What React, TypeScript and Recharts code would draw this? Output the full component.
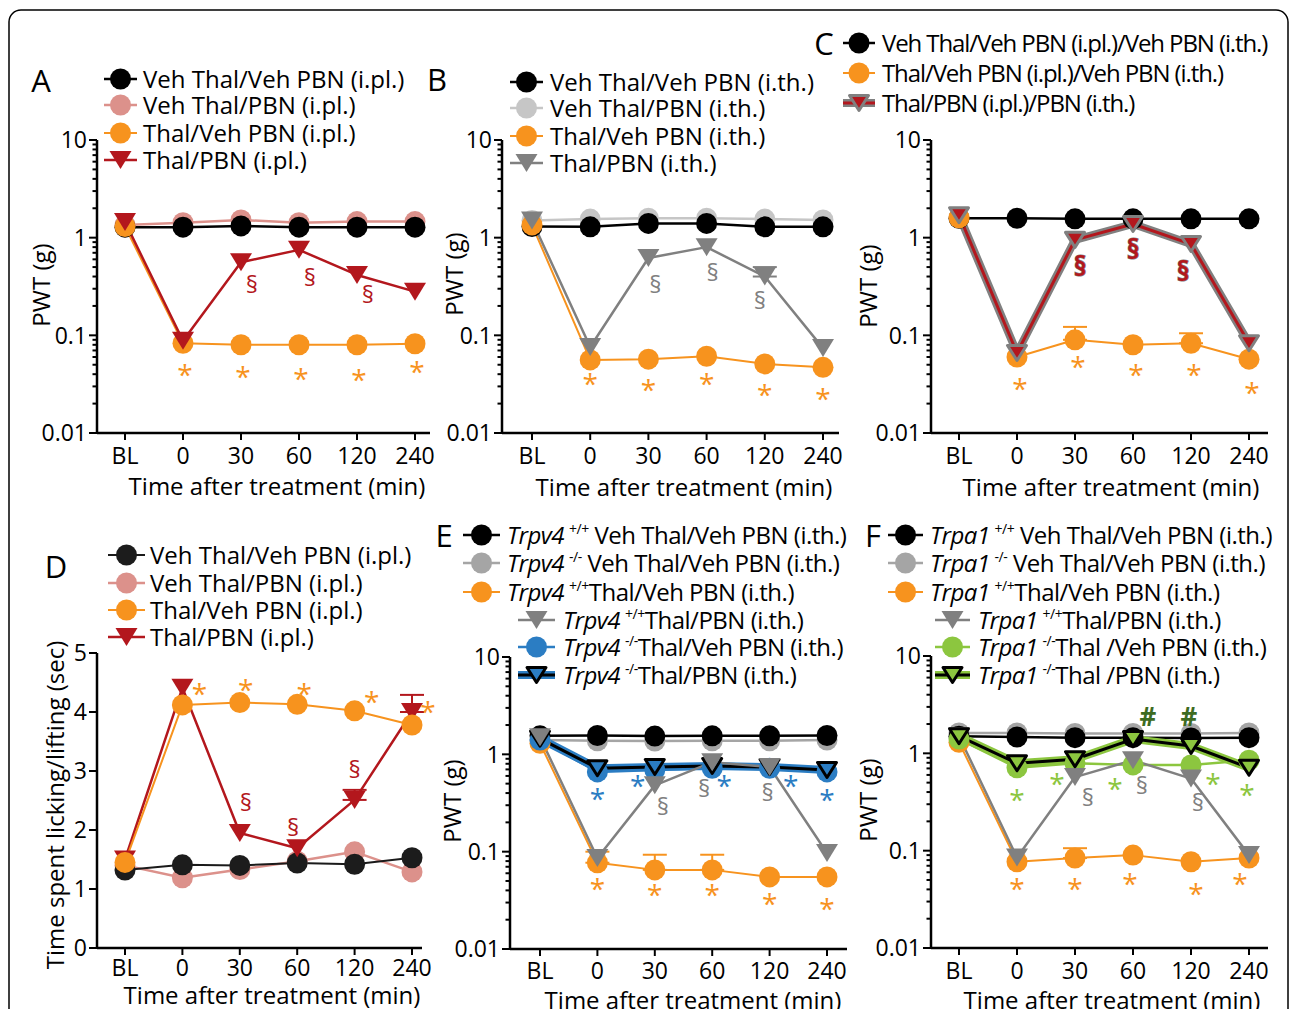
import type { ReactNode } from "react";
import { ErrorBar, Line, LineChart, XAxis, YAxis } from "recharts";

const FONT = "'Open Sans', sans-serif";

// x categories and axis ticks
const CATS = ["BL", "0", "30", "60", "120", "240"];
const LOG_TICKS = [
  0.01, 0.02, 0.03, 0.04, 0.05, 0.06, 0.07, 0.08, 0.09,
  0.1, 0.2, 0.3, 0.4, 0.5, 0.6, 0.7, 0.8, 0.9,
  1, 2, 3, 4, 5, 6, 7, 8, 9, 10,
];
const LOG_MAJOR = [0.01, 0.1, 1, 10];
const LIN_TICKS = [0, 1, 2, 3, 4, 5];

// A: PWT (g), i.pl.
const A_VEH_VEH = [1.28, 1.28, 1.32, 1.28, 1.28, 1.28];
const A_VEH_PBN = [1.35, 1.42, 1.52, 1.42, 1.46, 1.46];
const A_THAL_VEH = [1.3, 0.083, 0.08, 0.08, 0.08, 0.082];
const A_THAL_PBN = [1.45, 0.088, 0.56, 0.75, 0.415, 0.28];
const A_SECT = [null, null, 0.33, 0.39, 0.26, null];
const A_STAR = [null, 0.046, 0.044, 0.042, 0.041, 0.049];

// B: PWT (g), i.th.
const B_VEH_VEH = [1.3, 1.29, 1.4, 1.4, 1.29, 1.29];
const B_VEH_PBN = [1.5, 1.55, 1.58, 1.58, 1.55, 1.52];
const B_THAL_VEH = [1.35, 0.056, 0.057, 0.061, 0.051, 0.047];
const B_THAL_PBN = [1.5, 0.076, 0.62, 0.8, 0.4, 0.074];
const B_THAL_PBN_ERR = [null, null, null, null, 0.1, null];
const B_SECT = [null, null, 0.33, 0.44, 0.23, null];
const B_STAR = [null, 0.037, 0.0325, 0.037, 0.029, 0.026];

// C: PWT (g), i.pl. + i.th.
const C_VEH_VEH = [1.58, 1.58, 1.56, 1.56, 1.56, 1.56];
const C_THAL_VEH = [1.6, 0.06, 0.09, 0.08, 0.083, 0.057];
const C_THAL_VEH_ERR = [null, null, 0.032, null, 0.022, null];
const C_THAL_PBN = [1.7, 0.066, 0.95, 1.38, 0.86, 0.083];
const C_SECT = [null, null, 0.5, 0.75, 0.45, null];
const C_STAR = [null, 0.033, 0.056, 0.046, 0.046, 0.03];

// D: time spent licking/lifting (sec)
const D_VEH_VEH = [1.32, 1.41, 1.4, 1.44, 1.42, 1.53];
const D_VEH_PBN = [1.4, 1.19, 1.33, 1.47, 1.63, 1.29];
const D_THAL_VEH = [1.45, 4.12, 4.16, 4.13, 4.02, 3.78];
const D_THAL_PBN = [1.5, 4.41, 1.95, 1.69, 2.51, 4.0];
const D_THAL_PBN_ERR = [null, null, null, null, 0.17, 0.29];
const D_SECT = [null, null, 2.47, 2.05, 3.02, null];
const D_STAR = [null, 4.42, 4.49, 4.42, 4.29, 4.12];

// E: Trpv4
const E_WT_VEH = [1.55, 1.56, 1.54, 1.55, 1.55, 1.56];
const E_KO_VEH = [1.4, 1.38, 1.37, 1.38, 1.38, 1.4];
const E_WT_THAL_VEH = [1.3, 0.077, 0.065, 0.065, 0.055, 0.055];
const E_WT_THAL_VEH_ERR = [null, 0.023, 0.028, 0.028, null, null];
const E_WT_THAL_PBN = [1.5, 0.086, 0.48, 0.83, 0.74, 0.097];
const E_KO_THAL_VEH = [1.4, 0.66, 0.69, 0.72, 0.72, 0.66];
const E_KO_THAL_PBN = [1.45, 0.72, 0.74, 0.76, 0.74, 0.69];
const E_KO_STAR = [null, 0.41, 0.56, 0.56, 0.56, 0.4];
const E_SECT = [null, null, 0.29, 0.45, 0.41, null];
const E_STAR = [null, 0.048, 0.042, 0.042, 0.034, 0.03];

// F: Trpa1
const F_WT_VEH = [1.5, 1.47, 1.45, 1.45, 1.44, 1.45];
const F_KO_VEH = [1.62, 1.62, 1.6, 1.6, 1.6, 1.62];
const F_WT_THAL_VEH = [1.3, 0.077, 0.084, 0.09, 0.077, 0.084];
const F_WT_THAL_VEH_ERR = [null, null, 0.022, null, null, null];
const F_WT_THAL_PBN = [1.5, 0.085, 0.57, 0.85, 0.55, 0.09];
const F_KO_THAL_VEH = [1.4, 0.71, 0.79, 0.76, 0.76, 0.85];
const F_KO_THAL_PBN = [1.5, 0.79, 0.87, 1.4, 1.19, 0.71];
const F_HASH = [null, null, null, 2.36, 2.36, null];
const F_KO_STAR = [null, 0.39, 0.57, 0.5, 0.57, 0.44];
const F_SECT = [null, null, 0.35, 0.47, 0.31, null];
const F_STAR = [null, 0.047, 0.047, 0.053, 0.042, 0.054];

// legend texts
const IPL_NAMES = ["Veh Thal/Veh PBN (i.pl.)", "Veh Thal/PBN (i.pl.)", "Thal/Veh PBN (i.pl.)", "Thal/PBN (i.pl.)"];
const ITH_NAMES = ["Veh Thal/Veh PBN (i.th.)", "Veh Thal/PBN (i.th.)", "Thal/Veh PBN (i.th.)", "Thal/PBN (i.th.)"];
const C_NAMES = ["Veh Thal/Veh PBN (i.pl.)/Veh PBN (i.th.)", "Thal/Veh PBN (i.pl.)/Veh PBN (i.th.)", "Thal/PBN (i.pl.)/PBN (i.th.)"];
const E_GENO = ["+/+", "-/-", "+/+", "+/+", "-/-", "-/-"];
const E_REST = [" Veh Thal/Veh PBN (i.th.)", " Veh Thal/Veh PBN (i.th.)", "Thal/Veh PBN (i.th.)", "Thal/PBN (i.th.)", "Thal/Veh PBN (i.th.)", "Thal/PBN (i.th.)"];
const F_REST = [" Veh Thal/Veh PBN (i.th.)", " Veh Thal/Veh PBN (i.th.)", "Thal/Veh PBN (i.th.)", "Thal/PBN (i.th.)", "Thal /Veh PBN (i.th.)", "Thal /PBN (i.th.)"];

const X_TITLE = "Time after treatment (min)";
const PWT = "PWT (g)";
const LICK = "Time spent licking/lifting (sec)";

const C_ORANGE = "#f7931e";
const C_PINK = "#dc918b";
const C_RED = "#b3171d";
const C_LGRAY = "#c6c6c6";
const C_GRAY = "#808080";
const C_MGRAY = "#a5a5a5";
const C_BLUE = "#2b7dc3";
const C_GREEN = "#8cc63f";
const C_DGREEN = "#3d6b21";

type Look = {
  color: string;
  width: number;
  shape: "circle" | "triangle";
  fill: string;
  mStroke?: string;
  mStrokeW?: number;
  under?: { color: string; width: number };
};

const LK_BLACK: Look = { color: "#000", width: 2.5, shape: "circle", fill: "#000" };
const LK_DARK: Look = { color: "#1a1a1a", width: 2, shape: "circle", fill: "#1c1c1c" };
const LK_PINK: Look = { color: C_PINK, width: 2.5, shape: "circle", fill: C_PINK };
const LK_ORANGE: Look = { color: C_ORANGE, width: 2, shape: "circle", fill: C_ORANGE };
const LK_RED_TRI: Look = { color: C_RED, width: 2.5, shape: "triangle", fill: C_RED };
const LK_LGRAY: Look = { color: C_LGRAY, width: 2.5, shape: "circle", fill: C_LGRAY };
const LK_GRAY_TRI: Look = { color: C_GRAY, width: 2.5, shape: "triangle", fill: C_GRAY };
const LK_C_TRI: Look = { color: C_RED, width: 3, shape: "triangle", fill: C_RED, mStroke: C_GRAY, mStrokeW: 3, under: { color: C_GRAY, width: 8 } };
const LK_MGRAY: Look = { color: C_MGRAY, width: 2.5, shape: "circle", fill: C_MGRAY };
const LK_BLUE: Look = { color: C_BLUE, width: 2.5, shape: "circle", fill: C_BLUE };
const LK_BLUE_TRI: Look = { color: "#000", width: 3, shape: "triangle", fill: C_BLUE, mStroke: "#000", mStrokeW: 3, under: { color: C_BLUE, width: 8 } };
const LK_GREEN: Look = { color: C_GREEN, width: 2.5, shape: "circle", fill: C_GREEN };
const LK_GREEN_TRI: Look = { color: "#000", width: 3, shape: "triangle", fill: C_GREEN, mStroke: "#000", mStrokeW: 3, under: { color: C_GREEN, width: 8 } };

type Series = { look: Look; values: number[]; err?: (number | null)[] };
type Mark = { values: (number | null)[]; text: string; color: string; size: number; dx?: number | number[]; bold?: boolean; outline?: string };
type LegendItem = { look: Look; label: ReactNode; y: number; x0: number; x1: number; tx: number; ls?: number };
type PanelCfg = {
  id: string;
  plot: { x0: number; x1: number; y0: number; y1: number };
  pad: [number, number];
  log: boolean;
  tickMargin: number;
  series: Series[];
  marks: Mark[];
  letter: { text: string; x: number; y: number };
  yLabel: { text: string; x: number; y: number };
  xTitle: { x: number; y: number };
  legend: LegendItem[];
};

const YW = 80;
const TM = 22;
const RM = 16;
const XH = 70;

function shapeEl(s: Look, cx: number, cy: number, key?: string | number) {
  const stroke = s.mStroke ?? "none";
  const sw = s.mStrokeW ?? 0;
  if (s.shape === "circle") {
    return <circle key={key} cx={cx} cy={cy} r={10.5} fill={s.fill} stroke={stroke} strokeWidth={sw} />;
  }
  const w = sw ? 19 : 22;
  const h = sw ? 15 : 18;
  return (
    <path
      key={key}
      d={`M${cx - w / 2},${cy - h / 2}L${cx + w / 2},${cy - h / 2}L${cx},${cy + h / 2}Z`}
      fill={s.fill}
      stroke={stroke}
      strokeWidth={sw}
      strokeLinejoin="round"
    />
  );
}

function markDot(m: Mark, p: any) {
  const { cx, cy, index, value } = p;
  if (cx == null || cy == null || value == null) return <g key={`mk${index}`} />;
  const dx = Array.isArray(m.dx) ? m.dx[index] : m.dx ?? 0;
  const lift = m.text === "*" ? 0.6 : 0.36;
  return (
    <text
      key={`mk${index}`}
      x={cx + dx}
      y={cy + lift * m.size}
      textAnchor="middle"
      fontSize={m.size}
      fontFamily={FONT}
      fontWeight={m.bold ? 700 : 400}
      fill={m.color}
      stroke={m.outline ?? "none"}
      strokeWidth={m.outline ? 1.2 : 0}
      paintOrder="stroke"
    >
      {m.text}
    </text>
  );
}

function AxisTick(props: any) {
  const { x, y, payload, log } = props;
  const v = payload.value;
  const major = !log || LOG_MAJOR.includes(v);
  return (
    <g>
      <line x1={x - (major ? 8 : 4.5)} x2={x} y1={y} y2={y} stroke="#000" strokeWidth={2} />
      {major && (
        <text x={x - 10} y={y} dy="0.36em" textAnchor="end" fontSize={23} fontFamily={FONT} fill="#000">
          {String(v)}
        </text>
      )}
    </g>
  );
}

function Panel({ cfg }: { cfg: PanelCfg }) {
  const { plot, pad, log } = cfg;
  const data = CATS.map((t, i) => {
    const row: Record<string, unknown> = { t };
    cfg.series.forEach((s, k) => {
      row[`s${k}`] = s.values[i];
      if (s.err) row[`e${k}`] = s.err[i] == null ? null : [0, s.err[i]];
    });
    cfg.marks.forEach((m, k) => {
      row[`m${k}`] = m.values[i];
    });
    return row;
  });
  const width = plot.x1 - plot.x0 + YW + RM;
  const height = plot.y1 - plot.y0 + TM + XH;

  const lines: ReactNode[] = [];
  cfg.series.forEach((s, k) => {
    if (s.look.under) {
      lines.push(
        <Line
          key={`u${k}`}
          dataKey={`s${k}`}
          stroke={s.look.under.color}
          strokeWidth={s.look.under.width}
          strokeLinejoin="round"
          dot={false}
          activeDot={false}
          isAnimationActive={false}
        />
      );
    }
    lines.push(
      <Line
        key={`s${k}`}
        dataKey={`s${k}`}
        stroke={s.look.color}
        strokeWidth={s.look.width}
        strokeLinejoin="round"
        dot={(p: any) => shapeEl(s.look, p.cx, p.cy, `d${p.index}`)}
        activeDot={false}
        isAnimationActive={false}
      >
        {s.err && <ErrorBar dataKey={`e${k}`} direction="y" width={12} strokeWidth={2} stroke={s.look.color} />}
      </Line>
    );
  });
  cfg.marks.forEach((m, k) => {
    lines.push(
      <Line
        key={`m${k}`}
        dataKey={`m${k}`}
        stroke="none"
        dot={(p: any) => markDot(m, p)}
        activeDot={false}
        isAnimationActive={false}
      />
    );
  });

  return (
    <div style={{ position: "absolute", left: plot.x0 - YW, top: plot.y0 - TM }}>
      <LineChart width={width} height={height} data={data} margin={{ top: TM, right: RM, bottom: 0, left: 0 }}>
        <XAxis
          dataKey="t"
          interval={0}
          padding={{ left: pad[0], right: pad[1] }}
          axisLine={{ stroke: "#000", strokeWidth: 2.5 }}
          tickLine={{ stroke: "#000", strokeWidth: 2 }}
          tickSize={7}
          tickMargin={cfg.tickMargin}
          tick={{ fontSize: 23, fill: "#000", fontFamily: FONT }}
          height={XH}
        />
        <YAxis
          type="number"
          scale={log ? "log" : "linear"}
          domain={log ? [0.01, 10] : [0, 5]}
          allowDataOverflow
          ticks={log ? LOG_TICKS : LIN_TICKS}
          interval={0}
          width={YW}
          tickLine={false}
          tickSize={0}
          tickMargin={0}
          axisLine={{ stroke: "#000", strokeWidth: 2.5 }}
          tick={(p: any) => <AxisTick {...p} log={log} />}
        />
        {lines}
      </LineChart>
    </div>
  );
}

function geneLabel(gene: string, geno: string, rest: string) {
  return (
    <>
      <tspan fontStyle="italic">{gene}</tspan>
      <tspan fontSize={14} dx={5} dy={-10}>{geno}</tspan>
      <tspan dy={10}>{rest}</tspan>
    </>
  );
}

const PANELS: PanelCfg[] = [
  {
    id: "A",
    plot: { x0: 97, x1: 430, y0: 140, y1: 433 },
    pad: [28, 15],
    log: true,
    tickMargin: 8,
    series: [
      { look: LK_PINK, values: A_VEH_PBN },
      { look: LK_BLACK, values: A_VEH_VEH },
      { look: LK_ORANGE, values: A_THAL_VEH },
      { look: LK_RED_TRI, values: A_THAL_PBN },
    ],
    marks: [
      { values: A_SECT, text: "§", color: C_RED, size: 24, dx: 11 },
      { values: A_STAR, text: "*", color: C_ORANGE, size: 28, dx: 2 },
    ],
    letter: { text: "A", x: 41, y: 81 },
    yLabel: { text: PWT, x: 41, y: 285 },
    xTitle: { x: 277, y: 486 },
    legend: [
      { look: LK_BLACK, label: IPL_NAMES[0], y: 79, x0: 104, x1: 137, tx: 143 },
      { look: LK_PINK, label: IPL_NAMES[1], y: 105, x0: 104, x1: 137, tx: 143 },
      { look: LK_ORANGE, label: IPL_NAMES[2], y: 133, x0: 104, x1: 137, tx: 143 },
      { look: LK_RED_TRI, label: IPL_NAMES[3], y: 160, x0: 104, x1: 137, tx: 143 },
    ],
  },
  {
    id: "B",
    plot: { x0: 502, x1: 839, y0: 140, y1: 433 },
    pad: [30, 16],
    log: true,
    tickMargin: 8,
    series: [
      { look: LK_LGRAY, values: B_VEH_PBN },
      { look: LK_BLACK, values: B_VEH_VEH },
      { look: LK_ORANGE, values: B_THAL_VEH },
      { look: LK_GRAY_TRI, values: B_THAL_PBN, err: B_THAL_PBN_ERR },
    ],
    marks: [
      { values: B_SECT, text: "§", color: C_GRAY, size: 24, dx: [0, 0, 7, 6, -5, 0] },
      { values: B_STAR, text: "*", color: C_ORANGE, size: 28, dx: 0 },
    ],
    letter: { text: "B", x: 437, y: 80 },
    yLabel: { text: PWT, x: 454, y: 274 },
    xTitle: { x: 684, y: 487 },
    legend: [
      { look: LK_BLACK, label: ITH_NAMES[0], y: 82, x0: 510, x1: 543, tx: 550 },
      { look: LK_LGRAY, label: ITH_NAMES[1], y: 108, x0: 510, x1: 543, tx: 550 },
      { look: LK_ORANGE, label: ITH_NAMES[2], y: 136, x0: 510, x1: 543, tx: 550 },
      { look: LK_GRAY_TRI, label: ITH_NAMES[3], y: 163, x0: 510, x1: 543, tx: 550 },
    ],
  },
  {
    id: "C",
    plot: { x0: 931, x1: 1268, y0: 140, y1: 433 },
    pad: [28, 19],
    log: true,
    tickMargin: 8,
    series: [
      { look: LK_BLACK, values: C_VEH_VEH },
      { look: LK_ORANGE, values: C_THAL_VEH, err: C_THAL_VEH_ERR },
      { look: LK_C_TRI, values: C_THAL_PBN },
    ],
    marks: [
      { values: C_SECT, text: "§", color: C_RED, size: 26, dx: [0, 0, 5, 0, -8, 0], bold: true, outline: C_GRAY },
      { values: C_STAR, text: "*", color: C_ORANGE, size: 28, dx: 3 },
    ],
    letter: { text: "C", x: 824, y: 44 },
    yLabel: { text: PWT, x: 868, y: 286 },
    xTitle: { x: 1111, y: 487 },
    legend: [
      { look: LK_BLACK, label: C_NAMES[0], y: 43, x0: 843, x1: 875, tx: 882, ls: -1.1 },
      { look: LK_ORANGE, label: C_NAMES[1], y: 73, x0: 843, x1: 875, tx: 882, ls: -1.1 },
      { look: LK_C_TRI, label: C_NAMES[2], y: 103, x0: 843, x1: 875, tx: 882, ls: -1.1 },
    ],
  },
  {
    id: "D",
    plot: { x0: 97, x1: 422, y0: 653, y1: 948 },
    pad: [28, 10],
    log: false,
    tickMargin: 5,
    series: [
      { look: LK_PINK, values: D_VEH_PBN },
      { look: LK_DARK, values: D_VEH_VEH },
      { look: LK_RED_TRI, values: D_THAL_PBN, err: D_THAL_PBN_ERR },
      { look: LK_ORANGE, values: D_THAL_VEH },
    ],
    marks: [
      { values: D_SECT, text: "§", color: C_RED, size: 24, dx: [0, 0, 6, -4, 0, 0] },
      { values: D_STAR, text: "*", color: C_ORANGE, size: 28, dx: [0, 17, 6, 7, 17, 16] },
    ],
    letter: { text: "D", x: 56, y: 567 },
    yLabel: { text: LICK, x: 55, y: 805 },
    xTitle: { x: 272, y: 995 },
    legend: [
      { look: LK_DARK, label: IPL_NAMES[0], y: 555, x0: 108, x1: 145, tx: 150 },
      { look: LK_PINK, label: IPL_NAMES[1], y: 583, x0: 108, x1: 145, tx: 150 },
      { look: LK_ORANGE, label: IPL_NAMES[2], y: 610, x0: 108, x1: 145, tx: 150 },
      { look: LK_RED_TRI, label: IPL_NAMES[3], y: 637, x0: 108, x1: 145, tx: 150 },
    ],
  },
  {
    id: "E",
    plot: { x0: 510, x1: 847, y0: 657, y1: 949 },
    pad: [30, 20],
    log: true,
    tickMargin: 7,
    series: [
      { look: LK_MGRAY, values: E_KO_VEH },
      { look: LK_BLACK, values: E_WT_VEH },
      { look: LK_ORANGE, values: E_WT_THAL_VEH, err: E_WT_THAL_VEH_ERR },
      { look: LK_BLUE, values: E_KO_THAL_VEH },
      { look: LK_BLUE_TRI, values: E_KO_THAL_PBN },
      { look: LK_GRAY_TRI, values: E_WT_THAL_PBN },
    ],
    marks: [
      { values: E_KO_STAR, text: "*", color: C_BLUE, size: 28, dx: [0, 0, -17, 12, 21, 0] },
      { values: E_SECT, text: "§", color: C_GRAY, size: 24, dx: [0, 0, 8, -8, -2, 0] },
      { values: E_STAR, text: "*", color: C_ORANGE, size: 28, dx: 0 },
    ],
    letter: { text: "E", x: 444, y: 536 },
    yLabel: { text: PWT, x: 452, y: 801 },
    xTitle: { x: 693, y: 1000 },
    legend: [
      { look: LK_BLACK, label: geneLabel("Trpv4", E_GENO[0], E_REST[0]), y: 535, x0: 463, x1: 500, tx: 507, ls: -0.5 },
      { look: LK_MGRAY, label: geneLabel("Trpv4", E_GENO[1], E_REST[1]), y: 563, x0: 463, x1: 500, tx: 507, ls: -0.5 },
      { look: LK_ORANGE, label: geneLabel("Trpv4", E_GENO[2], E_REST[2]), y: 592, x0: 463, x1: 500, tx: 507, ls: -0.5 },
      { look: LK_GRAY_TRI, label: geneLabel("Trpv4", E_GENO[3], E_REST[3]), y: 620, x0: 518, x1: 555, tx: 563, ls: -0.5 },
      { look: LK_BLUE, label: geneLabel("Trpv4", E_GENO[4], E_REST[4]), y: 647, x0: 518, x1: 555, tx: 563, ls: -0.5 },
      { look: LK_BLUE_TRI, label: geneLabel("Trpv4", E_GENO[5], E_REST[5]), y: 675, x0: 518, x1: 555, tx: 563, ls: -0.5 },
    ],
  },
  {
    id: "F",
    plot: { x0: 931, x1: 1268, y0: 656, y1: 948 },
    pad: [28, 19],
    log: true,
    tickMargin: 8,
    series: [
      { look: LK_MGRAY, values: F_KO_VEH },
      { look: LK_BLACK, values: F_WT_VEH },
      { look: LK_ORANGE, values: F_WT_THAL_VEH, err: F_WT_THAL_VEH_ERR },
      { look: LK_GREEN, values: F_KO_THAL_VEH },
      { look: LK_GRAY_TRI, values: F_WT_THAL_PBN },
      { look: LK_GREEN_TRI, values: F_KO_THAL_PBN },
    ],
    marks: [
      { values: F_HASH, text: "#", color: C_DGREEN, size: 26, dx: [0, 0, 0, 15, -2, 0], bold: true },
      { values: F_KO_STAR, text: "*", color: C_GREEN, size: 28, dx: [0, 0, -18, -18, 22, -2] },
      { values: F_SECT, text: "§", color: C_GRAY, size: 24, dx: [0, 0, 13, 9, 7, 0] },
      { values: F_STAR, text: "*", color: C_ORANGE, size: 28, dx: [0, 0, 0, -3, 5, -9] },
    ],
    letter: { text: "F", x: 873, y: 536 },
    yLabel: { text: PWT, x: 868, y: 800 },
    xTitle: { x: 1112, y: 1000 },
    legend: [
      { look: LK_BLACK, label: geneLabel("Trpa1", E_GENO[0], F_REST[0]), y: 535, x0: 888, x1: 923, tx: 930, ls: -0.5 },
      { look: LK_MGRAY, label: geneLabel("Trpa1", E_GENO[1], F_REST[1]), y: 563, x0: 888, x1: 923, tx: 930, ls: -0.5 },
      { look: LK_ORANGE, label: geneLabel("Trpa1", E_GENO[2], F_REST[2]), y: 592, x0: 888, x1: 923, tx: 930, ls: -0.5 },
      { look: LK_GRAY_TRI, label: geneLabel("Trpa1", E_GENO[3], F_REST[3]), y: 620, x0: 935, x1: 970, tx: 978, ls: -0.5 },
      { look: LK_GREEN, label: geneLabel("Trpa1", E_GENO[4], F_REST[4]), y: 647, x0: 935, x1: 970, tx: 978, ls: -0.5 },
      { look: LK_GREEN_TRI, label: geneLabel("Trpa1", E_GENO[5], F_REST[5]), y: 675, x0: 935, x1: 970, tx: 978, ls: -0.5 },
    ],
  },
];

function PanelText({ p }: { p: PanelCfg }) {
  return (
    <g fontFamily={FONT} fill="#000">
      <text x={p.letter.x} y={p.letter.y + 0.36 * 31} textAnchor="middle" fontSize={31}>
        {p.letter.text}
      </text>
      <text
        transform={`translate(${p.yLabel.x},${p.yLabel.y}) rotate(-90)`}
        y={0.36 * 24}
        textAnchor="middle"
        fontSize={24}
      >
        {p.yLabel.text}
      </text>
      <text x={p.xTitle.x} y={p.xTitle.y + 0.36 * 24} textAnchor="middle" fontSize={24}>
        {X_TITLE}
      </text>
      {p.legend.map((it, i) => (
        <g key={i}>
          {it.look.under && (
            <line x1={it.x0} x2={it.x1} y1={it.y} y2={it.y} stroke={it.look.under.color} strokeWidth={it.look.under.width} />
          )}
          <line x1={it.x0} x2={it.x1} y1={it.y} y2={it.y} stroke={it.look.color} strokeWidth={it.look.width} />
          {shapeEl(it.look, (it.x0 + it.x1) / 2, it.y)}
          <text x={it.tx} y={it.y + 0.36 * 24} fontSize={24} letterSpacing={it.ls ?? 0}>
            {it.label}
          </text>
        </g>
      ))}
    </g>
  );
}

export default function App() {
  return (
    <div
      style={{
        position: "absolute",
        left: 0,
        top: 0,
        width: 1290,
        height: 1009,
        overflow: "hidden",
        background: "#fff",
        fontFamily: FONT,
      }}
    >
      {PANELS.map((p) => (
        <Panel key={p.id} cfg={p} />
      ))}
      <svg width={1290} height={1009} style={{ position: "absolute", left: 0, top: 0, pointerEvents: "none" }}>
        <rect x={9} y={10} width={1279} height={1100} rx={12} fill="none" stroke="#000" strokeWidth={1.5} />
        {PANELS.map((p) => (
          <PanelText key={p.id} p={p} />
        ))}
      </svg>
    </div>
  );
}
